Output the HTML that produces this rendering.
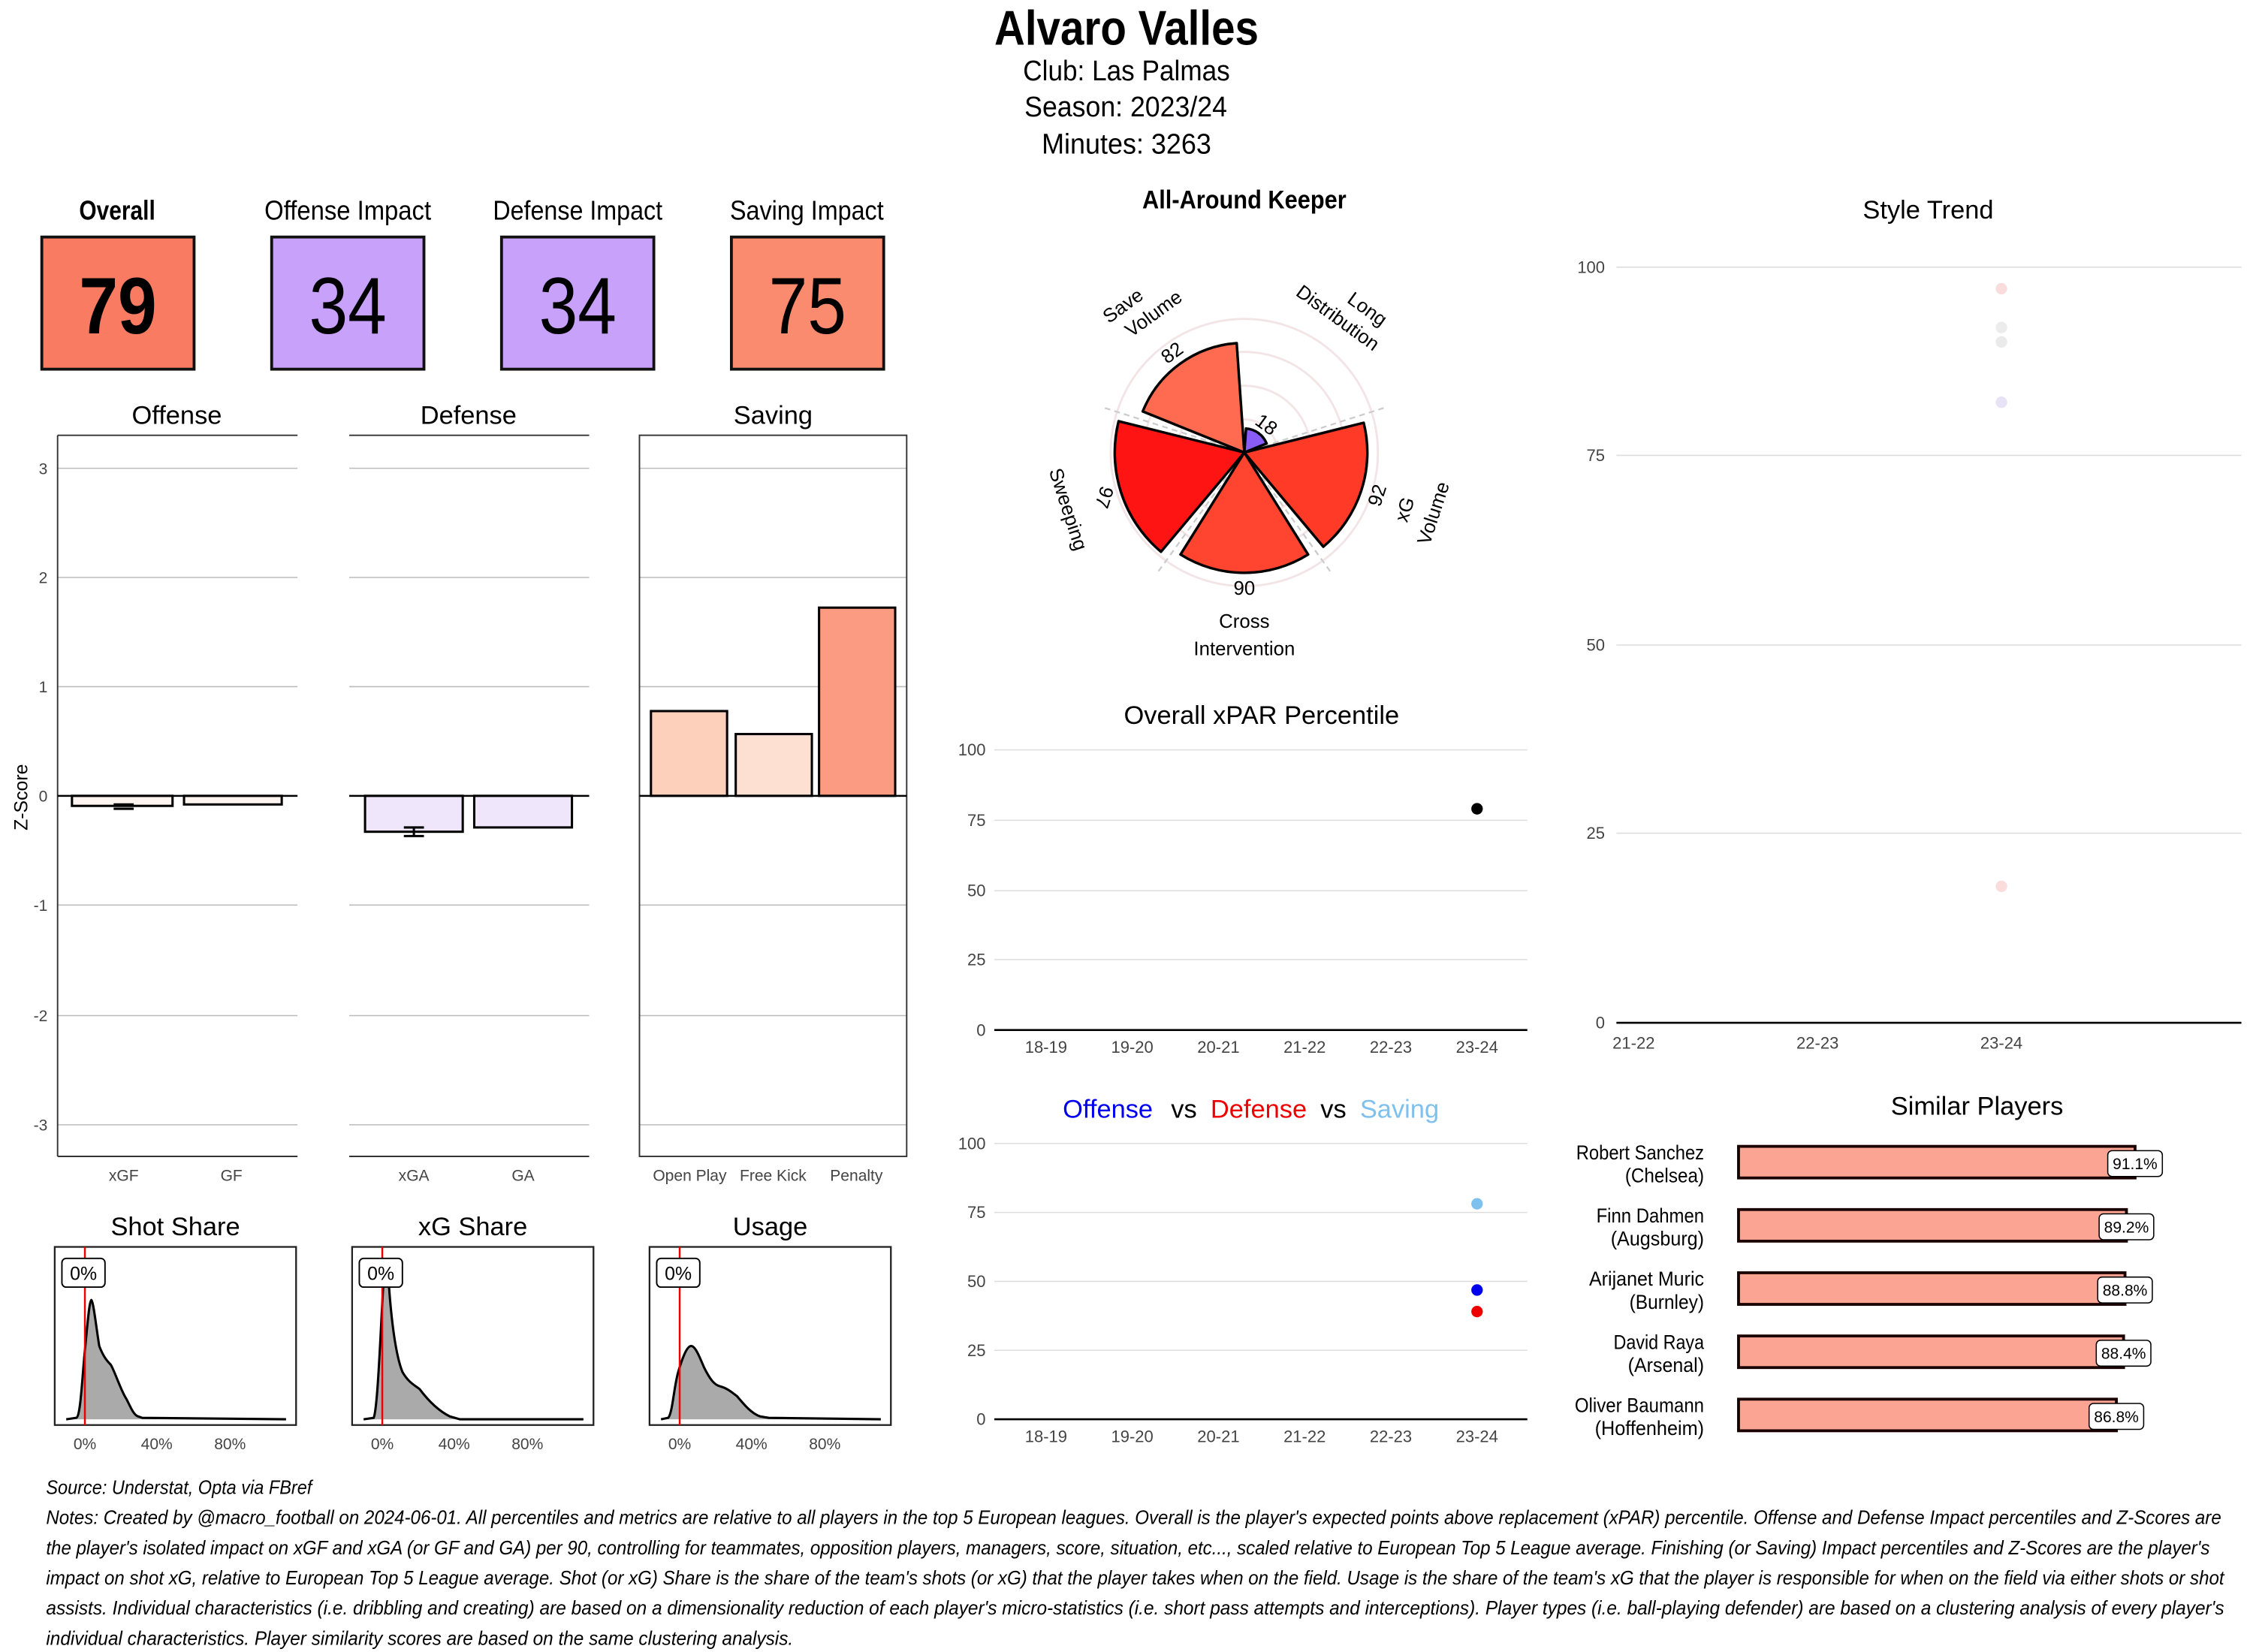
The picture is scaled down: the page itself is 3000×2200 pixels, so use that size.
<!DOCTYPE html>
<html><head><meta charset="utf-8"><style>
html,body{margin:0;padding:0;background:#fff;width:3000px;height:2200px;overflow:hidden}
svg{display:block}
text{font-family:"Liberation Sans Narrow","Liberation Sans",sans-serif}
</style></head><body>
<svg width="3000" height="2200" viewBox="0 0 1568 1150" xmlns="http://www.w3.org/2000/svg">
<rect width="1568" height="1150" fill="#fff"/>
<!-- header -->
<text x="692" y="31" font-size="34" font-weight="bold" textLength="184" lengthAdjust="spacingAndGlyphs">Alvaro Valles</text>
<text x="712" y="56" font-size="20" textLength="144" lengthAdjust="spacingAndGlyphs">Club:  Las Palmas</text>
<text x="713" y="81" font-size="20" textLength="141" lengthAdjust="spacingAndGlyphs">Season:  2023/24</text>
<text x="725" y="107" font-size="20" textLength="118" lengthAdjust="spacingAndGlyphs">Minutes:  3263</text>

<!-- tiles -->
<g font-size="19" lengthAdjust="spacingAndGlyphs">
<text x="55" y="153" font-weight="bold" textLength="53" lengthAdjust="spacingAndGlyphs">Overall</text>
<text x="184" y="153" textLength="116" lengthAdjust="spacingAndGlyphs">Offense Impact</text>
<text x="343" y="153" textLength="118" lengthAdjust="spacingAndGlyphs">Defense Impact</text>
<text x="508" y="153" textLength="107" lengthAdjust="spacingAndGlyphs">Saving Impact</text>
</g>
<g stroke="#111" stroke-width="2">
<rect x="29" y="165" width="106" height="92" fill="#F97B62"/>
<rect x="189" y="165" width="106" height="92" fill="#C8A1FB"/>
<rect x="349" y="165" width="106" height="92" fill="#C8A1FB"/>
<rect x="509" y="165" width="106" height="92" fill="#FA8B6E"/>
</g>
<g font-size="56">
<text x="55" y="232" font-weight="bold" textLength="54" lengthAdjust="spacingAndGlyphs">79</text>
<text x="215" y="232" textLength="54" lengthAdjust="spacingAndGlyphs">34</text>
<text x="375" y="232" textLength="54" lengthAdjust="spacingAndGlyphs">34</text>
<text x="535" y="232" textLength="54" lengthAdjust="spacingAndGlyphs">75</text>
</g>

<!-- z-score bar panels -->
<g font-size="18" text-anchor="middle">
<text x="123" y="295">Offense</text>
<text x="326" y="295">Defense</text>
<text x="538" y="295">Saving</text>
</g>
<g stroke="#bbb" stroke-width="0.8">
<line x1="40" x2="207" y1="326" y2="326"/><line x1="243" x2="410" y1="326" y2="326"/><line x1="445" x2="631" y1="326" y2="326"/>
<line x1="40" x2="207" y1="402" y2="402"/><line x1="243" x2="410" y1="402" y2="402"/><line x1="445" x2="631" y1="402" y2="402"/>
<line x1="40" x2="207" y1="478" y2="478"/><line x1="243" x2="410" y1="478" y2="478"/><line x1="445" x2="631" y1="478" y2="478"/>
<line x1="40" x2="207" y1="630" y2="630"/><line x1="243" x2="410" y1="630" y2="630"/><line x1="445" x2="631" y1="630" y2="630"/>
<line x1="40" x2="207" y1="707" y2="707"/><line x1="243" x2="410" y1="707" y2="707"/><line x1="445" x2="631" y1="707" y2="707"/>
<line x1="40" x2="207" y1="783" y2="783"/><line x1="243" x2="410" y1="783" y2="783"/><line x1="445" x2="631" y1="783" y2="783"/>
</g>
<g stroke="#333" stroke-width="1" fill="none">
<line x1="40" x2="207" y1="303" y2="303"/><line x1="243" x2="410" y1="303" y2="303"/>
<rect x="445" y="303" width="186" height="502"/>
<line x1="40" x2="40" y1="303" y2="805"/>
<line x1="40" x2="207" y1="805" y2="805"/><line x1="243" x2="410" y1="805" y2="805"/>
</g>
<g font-size="11" fill="#444" text-anchor="end">
<text x="33" y="330">3</text><text x="33" y="406">2</text><text x="33" y="482">1</text><text x="33" y="558">0</text>
<text x="33" y="634">-1</text><text x="33" y="711">-2</text><text x="33" y="787">-3</text>
</g>
<text x="19" y="555" font-size="13" text-anchor="middle" transform="rotate(-90 19 555)">Z-Score</text>
<g stroke="#000" stroke-width="1.6">
<rect x="50" y="554" width="70" height="7" fill="#FFF5F0"/>
<rect x="128" y="554" width="68" height="6" fill="#FFF5F0"/>
<rect x="254" y="554" width="68" height="25" fill="#EFE6FC"/>
<rect x="330" y="554" width="68" height="22" fill="#EFE6FC"/>
<rect x="453" y="495" width="53" height="59" fill="#FDD0BC"/>
<rect x="512" y="511" width="53" height="43" fill="#FEE0D2"/>
<rect x="570" y="423" width="53" height="131" fill="#FB9C82"/>
<line x1="79" x2="93" y1="560" y2="560"/><line x1="79" x2="93" y1="563" y2="563"/>
<line x1="281" x2="295" y1="576" y2="576"/><line x1="281" x2="295" y1="582" y2="582"/><line x1="288" x2="288" y1="576" y2="582"/>
</g>
<g stroke="#000" stroke-width="1.3">
<line x1="40" x2="207" y1="554" y2="554"/><line x1="243" x2="410" y1="554" y2="554"/><line x1="445" x2="631" y1="554" y2="554"/>
</g>
<g font-size="11" fill="#444" text-anchor="middle">
<text x="86" y="822">xGF</text><text x="161" y="822">GF</text>
<text x="288" y="822">xGA</text><text x="364" y="822">GA</text>
<text x="480" y="822">Open Play</text><text x="538" y="822">Free Kick</text><text x="596" y="822">Penalty</text>
</g>

<!-- density panels -->
<g font-size="18" text-anchor="middle">
<text x="122" y="860">Shot Share</text><text x="329" y="860">xG Share</text><text x="536" y="860">Usage</text>
</g>
<g fill="#aaa" stroke="#000" stroke-width="1.6">
<path d="M46,988 L53,987 C56,986 57,960 59,940 C61,920 62,906 63.5,905 C65,906 67,925 69,937 C72,945 75,948 77,950 C80,955 84,968 88,974 C91,980 93,985 96,986 L99,987 L199,988"/>
<path d="M253,988 L260,987 C263,980 265,920 267,890 C268,880 270,885 271,900 C273,925 276,945 280,955 C284,962 288,964 292,967 C298,975 305,982 313,986 L320,988 L406,988"/>
<path d="M460,988 L465,987 C468,984 469,965 472,955 C475,945 478,937 481,937 C484,937 487,945 490,952 C494,960 497,964 501,965 C505,966 508,968 513,972 C518,978 523,984 529,986 L535,987 L613,988"/>
</g>
<g fill="none" stroke="#222" stroke-width="1.2">
<rect x="38" y="868" width="168" height="124"/><rect x="245" y="868" width="168" height="124"/><rect x="452" y="868" width="168" height="124"/>
</g>
<g stroke="#e00" stroke-width="1.3">
<line x1="59" x2="59" y1="868" y2="992"/><line x1="266" x2="266" y1="868" y2="992"/><line x1="473" x2="473" y1="868" y2="992"/>
</g>
<g fill="#fff" stroke="#000" stroke-width="1">
<rect x="43" y="876" width="30" height="20" rx="3"/><rect x="250" y="876" width="30" height="20" rx="3"/><rect x="457" y="876" width="30" height="20" rx="3"/>
</g>
<g font-size="13" text-anchor="middle">
<text x="58" y="891">0%</text><text x="265" y="891">0%</text><text x="472" y="891">0%</text>
</g>
<g font-size="11" fill="#444" text-anchor="middle">
<text x="59" y="1009">0%</text><text x="109" y="1009">40%</text><text x="160" y="1009">80%</text>
<text x="266" y="1009">0%</text><text x="316" y="1009">40%</text><text x="367" y="1009">80%</text>
<text x="473" y="1009">0%</text><text x="523" y="1009">40%</text><text x="574" y="1009">80%</text>
</g>

<!-- radar -->
<text x="795" y="145" font-size="18" font-weight="bold" textLength="142" lengthAdjust="spacingAndGlyphs">All-Around Keeper</text>
<g fill="none" stroke="#f3e4e6" stroke-width="1.5">
<circle cx="866" cy="315" r="23"/><circle cx="866" cy="315" r="46.5"/><circle cx="866" cy="315" r="70"/><circle cx="866" cy="315" r="93"/>
</g>
<g stroke="#ccc" stroke-width="1.2" stroke-dasharray="4,3">
<line x1="866" y1="315" x2="963" y2="284"/><line x1="866" y1="315" x2="926" y2="398"/>
<line x1="866" y1="315" x2="806" y2="398"/><line x1="866" y1="315" x2="769" y2="284"/>
</g>
<g stroke="#000" stroke-width="1.8" stroke-linejoin="round">
<path d="M866,315 L867.2,298.3 A16.7,16.7 0 0 1 881.5,308.7 Z" fill="#8A5CF6"/>
<path d="M866,315 L949.1,294.3 A85.6,85.6 0 0 1 921,380.6 Z" fill="#FF3B28"/>
<path d="M866,315 L910.4,386 A83.7,83.7 0 0 1 821.6,386 Z" fill="#FF4530"/>
<path d="M866,315 L808,384.1 A90.2,90.2 0 0 1 778.5,293.2 Z" fill="#FF1414"/>
<path d="M866,315 L795.3,286.4 A76.3,76.3 0 0 1 860.7,238.9 Z" fill="#FF6B50"/>
</g>
<g font-size="13.5" text-anchor="middle" style="font-family:'Liberation Sans',sans-serif">
<text x="881" y="300" transform="rotate(36 881 296)">18</text>
<text x="959" y="349" transform="rotate(-72 959 345)">92</text>
<text x="866" y="414">90</text>
<text x="768" y="350" transform="rotate(108 768 346)">97</text>
<text x="816" y="250" transform="rotate(-36 816 246)">82</text>
<text x="786" y="210" transform="rotate(-36 795 216)">Save</text>
<text x="800" y="227" transform="rotate(-36 795 216)">Volume</text>
<text x="946" y="212" transform="rotate(36 937 220)">Long</text>
<text x="933" y="229" transform="rotate(36 937 220)">Distribution</text>
<text x="982" y="356" transform="rotate(-72 982 356)">xG</text>
<text x="1000" y="360" transform="rotate(-72 1000 358)">Volume</text>
<text x="866" y="437">Cross</text>
<text x="866" y="456">Intervention</text>
<text x="742" y="358" transform="rotate(72 742 355)">Sweeping</text>
</g>

<!-- overall xPAR -->
<text x="878" y="504" font-size="18" text-anchor="middle">Overall xPAR Percentile</text>
<g stroke="#ddd" stroke-width="0.8">
<line x1="692" x2="1063" y1="522" y2="522"/><line x1="692" x2="1063" y1="571" y2="571"/><line x1="692" x2="1063" y1="620" y2="620"/><line x1="692" x2="1063" y1="668" y2="668"/>
<line x1="692" x2="1063" y1="796" y2="796"/><line x1="692" x2="1063" y1="844" y2="844"/><line x1="692" x2="1063" y1="892" y2="892"/><line x1="692" x2="1063" y1="940" y2="940"/>
</g>
<g stroke="#000" stroke-width="1.4"><line x1="692" x2="1063" y1="717" y2="717"/><line x1="692" x2="1063" y1="988" y2="988"/></g>
<g font-size="11.5" fill="#444" text-anchor="end" style="font-family:'Liberation Sans',sans-serif">
<text x="686" y="526">100</text><text x="686" y="575">75</text><text x="686" y="624">50</text><text x="686" y="672">25</text><text x="686" y="721">0</text>
<text x="686" y="800">100</text><text x="686" y="848">75</text><text x="686" y="896">50</text><text x="686" y="944">25</text><text x="686" y="992">0</text>
</g>
<g font-size="11.5" fill="#444" text-anchor="middle" style="font-family:'Liberation Sans',sans-serif">
<text x="728" y="733">18-19</text><text x="788" y="733">19-20</text><text x="848" y="733">20-21</text><text x="908" y="733">21-22</text><text x="968" y="733">22-23</text><text x="1028" y="733">23-24</text>
<text x="728" y="1004">18-19</text><text x="788" y="1004">19-20</text><text x="848" y="1004">20-21</text><text x="908" y="1004">21-22</text><text x="968" y="1004">22-23</text><text x="1028" y="1004">23-24</text>
</g>
<circle cx="1028" cy="563" r="4" fill="#000"/>
<g font-size="18" text-anchor="middle">
<text x="771" y="778" fill="#0000ee">Offense</text><text x="824" y="778">vs</text>
<text x="876" y="778" fill="#ee0000">Defense</text><text x="928" y="778">vs</text>
<text x="974" y="778" fill="#7EC0EE">Saving</text>
</g>
<circle cx="1028" cy="838" r="4" fill="#7EC0EE"/>
<circle cx="1028" cy="898" r="4" fill="#0000ee"/>
<circle cx="1028" cy="913" r="4" fill="#ee0000"/>

<!-- style trend -->
<text x="1342" y="152" font-size="18" text-anchor="middle">Style Trend</text>
<g stroke="#ddd" stroke-width="0.8">
<line x1="1125" x2="1560" y1="186" y2="186"/><line x1="1125" x2="1560" y1="317" y2="317"/><line x1="1125" x2="1560" y1="449" y2="449"/><line x1="1125" x2="1560" y1="580" y2="580"/>
</g>
<line x1="1125" x2="1560" y1="712" y2="712" stroke="#000" stroke-width="1.4"/>
<g font-size="11.5" fill="#444" text-anchor="end" style="font-family:'Liberation Sans',sans-serif">
<text x="1117" y="190">100</text><text x="1117" y="321">75</text><text x="1117" y="453">50</text><text x="1117" y="584">25</text><text x="1117" y="716">0</text>
</g>
<g font-size="11.5" fill="#444" text-anchor="middle" style="font-family:'Liberation Sans',sans-serif">
<text x="1137" y="730">21-22</text><text x="1265" y="730">22-23</text><text x="1393" y="730">23-24</text>
</g>
<circle cx="1393" cy="201" r="4" fill="#fbdcdc"/>
<circle cx="1393" cy="228" r="4" fill="#ececec"/>
<circle cx="1393" cy="238" r="4" fill="#eaeaea"/>
<circle cx="1393" cy="280" r="4" fill="#e8e2f6"/>
<circle cx="1393" cy="617" r="4" fill="#fbdcdc"/>

<!-- similar players -->
<text x="1376" y="776" font-size="18" text-anchor="middle">Similar Players</text>
<g fill="#FBA494" stroke="#1a0000" stroke-width="2">
<rect x="1210" y="798" width="276" height="22"/>
<rect x="1210" y="842" width="270" height="22"/>
<rect x="1210" y="886" width="269" height="22"/>
<rect x="1210" y="930" width="268" height="22"/>
<rect x="1210" y="974" width="263" height="22"/>
</g>
<g fill="#fff" stroke="#000" stroke-width="0.8">
<rect x="1467" y="801" width="38" height="18" rx="3"/>
<rect x="1461" y="845" width="38" height="18" rx="3"/>
<rect x="1460" y="889" width="38" height="18" rx="3"/>
<rect x="1459" y="933" width="38" height="18" rx="3"/>
<rect x="1454" y="977" width="38" height="18" rx="3"/>
</g>
<g font-size="11" text-anchor="middle">
<text x="1486" y="814">91.1%</text><text x="1480" y="858">89.2%</text><text x="1479" y="902">88.8%</text><text x="1478" y="946">88.4%</text><text x="1473" y="990">86.8%</text>
</g>
<g font-size="14">
<text x="1097" y="807" textLength="89" lengthAdjust="spacingAndGlyphs">Robert Sanchez</text><text x="1131" y="823" textLength="55" lengthAdjust="spacingAndGlyphs">(Chelsea)</text>
<text x="1111" y="851" textLength="75" lengthAdjust="spacingAndGlyphs">Finn Dahmen</text><text x="1121" y="867" textLength="65" lengthAdjust="spacingAndGlyphs">(Augsburg)</text>
<text x="1106" y="895" textLength="80" lengthAdjust="spacingAndGlyphs">Arijanet Muric</text><text x="1134" y="911" textLength="52" lengthAdjust="spacingAndGlyphs">(Burnley)</text>
<text x="1123" y="939" textLength="63" lengthAdjust="spacingAndGlyphs">David Raya</text><text x="1133" y="955" textLength="53" lengthAdjust="spacingAndGlyphs">(Arsenal)</text>
<text x="1096" y="983" textLength="90" lengthAdjust="spacingAndGlyphs">Oliver Baumann</text><text x="1110" y="999" textLength="76" lengthAdjust="spacingAndGlyphs">(Hoffenheim)</text>
</g>

<!-- footer -->
<g font-size="13.5" font-style="italic">
<text x="32" y="1040" textLength="185" lengthAdjust="spacingAndGlyphs">Source: Understat, Opta via FBref</text>
<text x="32" y="1061" textLength="1514" lengthAdjust="spacingAndGlyphs">Notes: Created by @macro_football on 2024-06-01. All percentiles and metrics are relative to all players in the top 5 European leagues. Overall is the player's expected points above replacement (xPAR) percentile. Offense and Defense Impact percentiles and Z-Scores are</text>
<text x="32" y="1082" textLength="1506" lengthAdjust="spacingAndGlyphs">the player's isolated impact on xGF and xGA (or GF and GA) per 90, controlling for teammates, opposition players, managers, score, situation, etc..., scaled relative to European Top 5 League average. Finishing (or Saving) Impact percentiles and Z-Scores are the player's</text>
<text x="32" y="1103" textLength="1516" lengthAdjust="spacingAndGlyphs">impact on shot xG, relative to European Top 5 League average. Shot (or xG) Share is the share of the team's shots (or xG) that the player takes when on the field. Usage is the share of the team's xG that the player is responsible for when on the field via either shots or shot</text>
<text x="32" y="1124" textLength="1516" lengthAdjust="spacingAndGlyphs">assists. Individual characteristics (i.e. dribbling and creating) are based on a dimensionality reduction of each player's micro-statistics (i.e. short pass attempts and interceptions). Player types (i.e. ball-playing defender) are based on a clustering analysis of every player's</text>
<text x="32" y="1145" textLength="520" lengthAdjust="spacingAndGlyphs">individual characteristics. Player similarity scores are based on the same clustering analysis.</text>
</g>
</svg>
</body></html>
